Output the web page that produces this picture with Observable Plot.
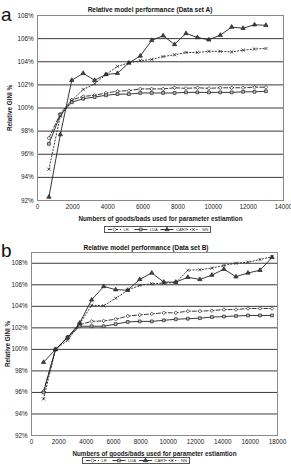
<!DOCTYPE html>
<html>
<head>
<meta charset="utf-8">
<script src="https://cdn.jsdelivr.net/npm/d3@7"></script>
<script src="https://cdn.jsdelivr.net/npm/@observablehq/plot@0.6"></script>
<style>
  body { margin: 0; background: #fff; font-family: "Liberation Sans", Arial, sans-serif; }
  #wrap { position: relative; width: 291px; height: 466px; overflow: hidden; background: #fff; }
  .abs { position: absolute; }
  .panel { font-size: 19px; line-height: 1; color: #111; }
  .title { font-size: 6.5px; font-weight: bold; white-space: nowrap; transform: translateX(-50%); color: #111; }
  .legend { border: 1px solid #555; background: #fff; box-sizing: border-box; }
</style>
</head>
<body>
<div id="wrap"></div>
<script>
// Relative GINI (%) by training sample size, data set A
const xA = [650, 1300, 1950, 2600, 3250, 3900, 4550, 5200, 5850, 6500,
            7150, 7800, 8450, 9100, 9750, 10400, 11050, 11700, 12350, 13000];
const lrA   = [97.4, 99.5, 100.7, 101.0, 101.1, 101.3, 101.45, 101.5, 101.65, 101.65,
               101.65, 101.75, 101.7, 101.75, 101.7, 101.75, 101.75, 101.75, 101.8, 101.8];
const ldaA  = [96.9, 99.4, 100.5, 100.8, 100.95, 101.1, 101.2, 101.2, 101.3, 101.3,
               101.3, 101.3, 101.35, 101.35, 101.35, 101.35, 101.35, 101.4, 101.4, 101.45];
const cartA = [92.3, 97.7, 102.4, 103.0, 102.4, 102.9, 103.0, 103.9, 104.5, 105.85,
               106.25, 105.5, 106.45, 106.1, 105.9, 106.3, 107.0, 106.9, 107.2, 107.15];
const nnA   = [94.7, 99.3, 100.65, 101.6, 102.1, 102.9, 103.6, 103.9, 104.1, 104.2,
               104.45, 104.6, 104.8, 104.8, 104.9, 104.9, 104.85, 105.0, 105.1, 105.15];

// Relative GINI (%) by training sample size, data set B
const xB = [880, 1760, 2640, 3520, 4400, 5280, 6160, 7040, 7920, 8800,
            9680, 10560, 11440, 12320, 13200, 14080, 14960, 15840, 16720, 17600];
const lrB   = [96.1, 100.0, 101.15, 102.3, 102.6, 102.65, 102.8, 103.1, 103.2, 103.3,
               103.4, 103.4, 103.55, 103.55, 103.6, 103.7, 103.7, 103.8, 103.8, 103.8];
const ldaB  = [96.0, 100.0, 101.1, 102.15, 102.15, 102.15, 102.35, 102.55, 102.6, 102.6,
               102.7, 102.8, 102.85, 102.9, 103.0, 103.05, 103.1, 103.15, 103.15, 103.15];
const cartB = [98.8, 100.0, 101.1, 102.45, 104.6, 105.85, 105.55, 105.5, 106.5, 107.1,
               106.25, 106.25, 106.7, 106.5, 106.9, 107.45, 106.75, 107.1, 107.35, 108.55];
const nnB   = [95.4, 100.0, 100.85, 102.35, 104.1, 104.05, 104.75, 105.5, 105.95, 106.1,
               106.15, 106.2, 107.35, 107.4, 107.55, 107.8, 108.0, 108.1, 108.35, 108.6];

// Axis ticks and text
const xTicksA = [0, 2000, 4000, 6000, 8000, 10000, 12000, 14000];
const xTicksB = [0, 2000, 4000, 6000, 8000, 10000, 12000, 14000, 16000, 18000];
const yTicks = [92, 94, 96, 98, 100, 102, 104, 106, 108];
const seriesNames = ["LR", "LDA", "CART", "NN"];
const titleA = "Relative model performance (Data set A)";
const titleB = "Relative model performance (Data set B)";
const xLabel = "Numbers of goods/bads used for parameter estiamtion";
const yLabel = "Relative GINI %";

// Drawing style for each series
const styles = {
  LR:   {symbol: "diamond2", fill: "#fff", dash: "4,2"},
  LDA:  {symbol: "square",   fill: "#bbb", dash: null},
  CART: {symbol: "triangle", fill: "#444", dash: null},
  NN:   {symbol: "times",    fill: "none", dash: "1.2,2"}
};
const ink = "#222";
const font = "Liberation Sans, Arial, sans-serif";

function rows(xs, values) {
  const out = [];
  seriesNames.forEach((name, i) => {
    values[i].forEach((v, j) => out.push({series: name, x: xs[j], v}));
  });
  return out;
}

function seriesMarks(data) {
  const marks = [];
  for (const name of seriesNames) {
    const s = styles[name];
    const d = data.filter(r => r.series === name);
    marks.push(Plot.line(d, {x: "x", y: "v", stroke: ink, strokeWidth: 0.9,
      strokeDasharray: s.dash || undefined}));
  }
  for (const name of seriesNames) {
    const s = styles[name];
    const d = data.filter(r => r.series === name);
    marks.push(Plot.dot(d, {x: "x", y: "v", symbol: () => s.symbol, r: 1.6,
      stroke: ink, strokeWidth: 0.7, fill: s.fill}));
  }
  return marks;
}

function chart({data, xDomain, xTicks, yDomain, grid, height, mt, mb, ml, mr, yOff}) {
  const svg = Plot.plot({
    width: 291, height,
    marginTop: mt, marginBottom: mb, marginLeft: ml, marginRight: mr,
    style: {fontFamily: font, fontSize: "6.3px", color: "#222", background: "transparent", overflow: "visible"},
    symbol: {type: "identity"},
    x: {domain: xDomain, ticks: xTicks, tickFormat: d => String(d), tickSize: 0, tickPadding: 4,
        label: xLabel, labelAnchor: "center", labelOffset: 20, labelArrow: "none"},
    y: {domain: yDomain, ticks: yTicks, tickFormat: d => d + "%", tickSize: 0, tickPadding: 4,
        label: yLabel, labelAnchor: "center", labelOffset: yOff, labelArrow: "none"},
    marks: [
      Plot.ruleY(grid, {stroke: "#3a3a3a", strokeWidth: 1}),
      Plot.frame({stroke: "#8a8a8a", strokeWidth: 1}),
      ...seriesMarks(data)
    ]
  });
  const labels = d3.select(svg).selectAll('g[aria-label$="axis label"] text');
  labels.attr("font-weight", "bold");
  labels.text(function () { return this.textContent.replace(/\s*[→←↑↓]\s*/g, ""); });
  return svg;
}

function legend(left, top, width, height) {
  const box = document.createElement("div");
  box.className = "abs legend";
  Object.assign(box.style, {left: left + "px", top: top + "px", width: width + "px", height: height + "px"});
  const svg = d3.create("svg").attr("width", width - 2).attr("height", height - 2)
    .style("display", "block");
  const cy = (height - 2) / 2;
  const slot = (width - 2) / 4;
  seriesNames.forEach((name, i) => {
    const s = styles[name];
    const x0 = 3 + i * slot;
    svg.append("line").attr("x1", x0).attr("x2", x0 + 13).attr("y1", cy).attr("y2", cy)
      .attr("stroke", ink).attr("stroke-width", 0.9)
      .attr("stroke-dasharray", s.dash);
    const sym = {diamond2: d3.symbolDiamond2, square: d3.symbolSquare,
                 triangle: d3.symbolTriangle, times: d3.symbolTimes}[s.symbol];
    svg.append("path").attr("d", d3.symbol(sym, 8)())
      .attr("transform", `translate(${x0 + 6.5},${cy})`)
      .attr("fill", s.fill).attr("stroke", ink).attr("stroke-width", 0.6);
    svg.append("text").attr("x", x0 + 15.5).attr("y", cy).attr("dy", "0.35em")
      .attr("font-size", 4.2).attr("font-family", font).attr("fill", "#333").text(name);
  });
  box.appendChild(svg.node());
  return box;
}

function place(el, left, top) {
  el.classList.add("abs");
  el.style.left = left + "px";
  el.style.top = top + "px";
  wrap.appendChild(el);
}

function text(cls, str, left, top) {
  const el = document.createElement("div");
  el.className = cls;
  el.textContent = str;
  place(el, left, top);
  return el;
}

const wrap = document.getElementById("wrap");

// Panel a
place(chart({
  data: rows(xA, [lrA, ldaA, cartA, nnA]),
  xDomain: [0, 14000], xTicks: xTicksA, yDomain: [92, 108], grid: yTicks,
  height: 224, mt: 15, mb: 24, ml: 37, mr: 8, yOff: 30
}), 0, 0);
text("panel", "a", 1, 5);
text("title", titleA, 150, 6);
wrap.appendChild(legend(104, 226, 107, 7));

// Panel b
place(chart({
  data: rows(xB, [lrB, ldaB, cartB, nnB]),
  xDomain: [0, 18000], xTicks: xTicksB, yDomain: [92, 109], grid: yTicks,
  height: 226, mt: 12, mb: 31, ml: 31, mr: 14, yOff: 26
}), 0, 240);
text("panel", "b", 1, 241);
text("title", titleB, 146, 244);
wrap.appendChild(legend(82, 457, 108, 7));
</script>
</body>
</html>
